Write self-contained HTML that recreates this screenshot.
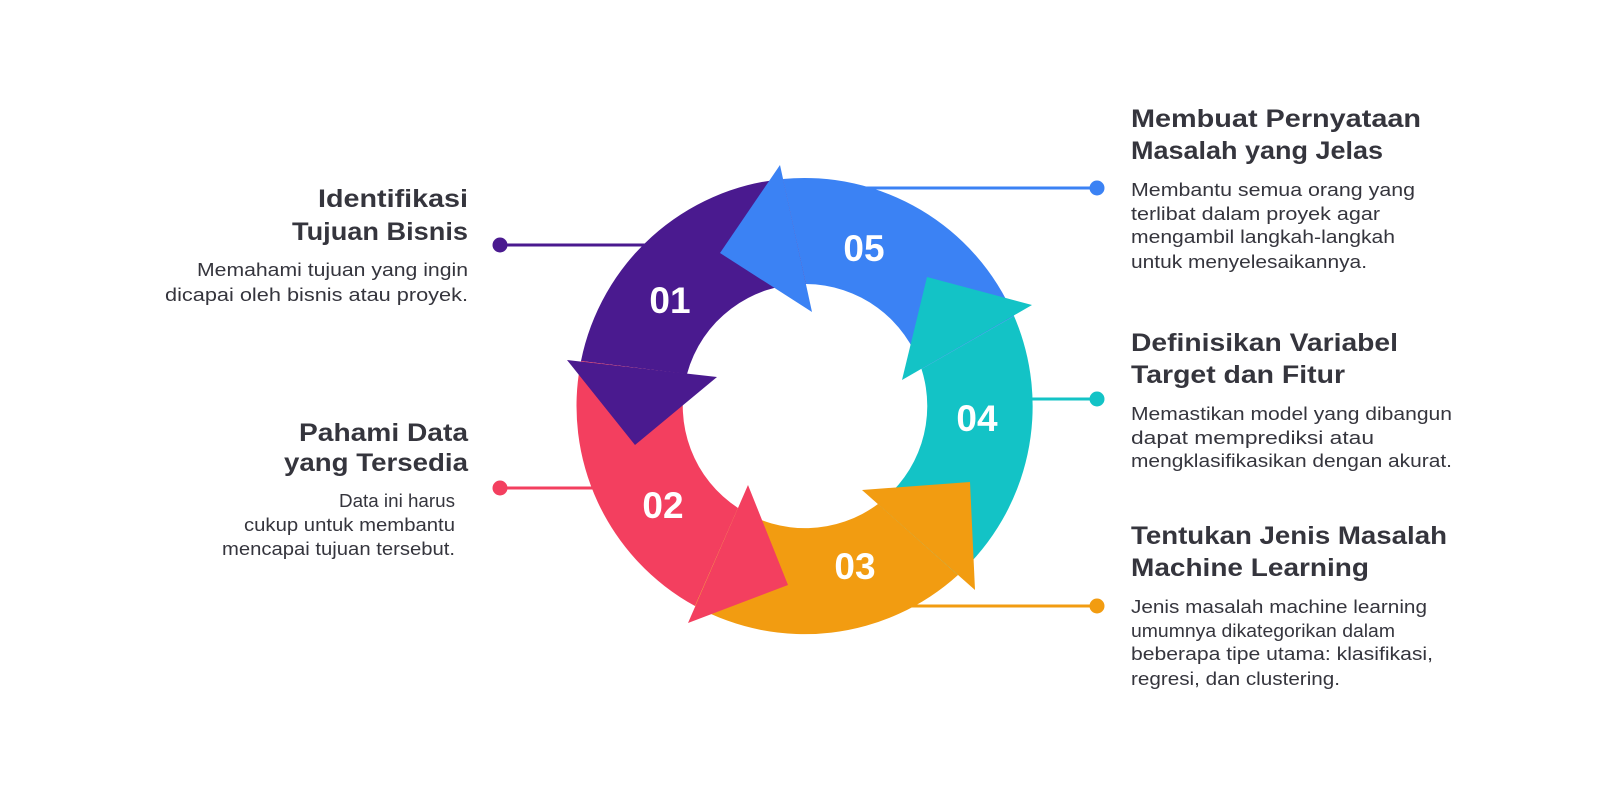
<!DOCTYPE html>
<html><head><meta charset="utf-8"><style>
html,body{margin:0;padding:0;background:#fff;}
svg{display:block;}
.t{font-family:"Liberation Sans",sans-serif;font-weight:bold;font-size:25px;fill:#35353d;}
.b{font-family:"Liberation Sans",sans-serif;font-size:18px;fill:#35353d;}
.n{font-family:"Liberation Sans",sans-serif;font-weight:bold;font-size:37px;fill:#fff;text-anchor:middle;}
</style></head><body>
<svg width="1600" height="797" viewBox="0 0 1600 797" xmlns="http://www.w3.org/2000/svg">
<line x1="500" y1="245" x2="700" y2="245" stroke="#4a1a8f" stroke-width="3"/>
<circle cx="500" cy="245" r="7.5" fill="#4a1a8f"/>
<line x1="500" y1="488" x2="640" y2="488" stroke="#f33f5f" stroke-width="3"/>
<circle cx="500" cy="488" r="7.5" fill="#f33f5f"/>
<line x1="830" y1="188" x2="1097" y2="188" stroke="#3b82f4" stroke-width="3"/>
<circle cx="1097" cy="188" r="7.5" fill="#3b82f4"/>
<line x1="970" y1="399" x2="1097" y2="399" stroke="#13c3c6" stroke-width="3"/>
<circle cx="1097" cy="399" r="7.5" fill="#13c3c6"/>
<line x1="890" y1="606" x2="1097" y2="606" stroke="#f29c11" stroke-width="3"/>
<circle cx="1097" cy="606" r="7.5" fill="#f29c11"/>

<path fill="#3b82f4" d="M1014,316 A228,228 0 0 0 783,179 L806,284 A122,122 0 0 1 921.5,369 Z"/>
<path fill="#4a1a8f" d="M783,179 A228,228 0 0 0 581,361 L687,374 A122,122 0 0 1 806,284 Z"/>
<path fill="#f33f5f" d="M581,361 A228,228 0 0 0 695,606 L738,508 A122,122 0 0 1 687,374 Z"/>
<path fill="#f29c11" d="M695,606 A228,228 0 0 0 958,575 L878,504 A122,122 0 0 1 738,508 Z"/>
<path fill="#13c3c6" d="M958,575 A228,228 0 0 0 1014,316 L921.5,369 A122,122 0 0 1 878,504 Z"/>
<polygon fill="#3b82f4" points="780,165 720,253 812,312"/>
<polygon fill="#4a1a8f" points="567,360 635,445 717,377"/>
<polygon fill="#f33f5f" points="748,485 788,585 688,623"/>
<polygon fill="#f29c11" points="862,490 970,482 975,590"/>
<polygon fill="#13c3c6" points="902,380 927,277 1032,305"/>

<text class="n" x="670" y="313">01</text>
<text class="n" x="663" y="518">02</text>
<text class="n" x="855" y="579">03</text>
<text class="n" x="977" y="431">04</text>
<text class="n" x="864" y="261">05</text>

<g text-anchor="end">
<text class="t" x="468" y="207" textLength="150" lengthAdjust="spacingAndGlyphs">Identifikasi</text>
<text class="t" x="468" y="240" textLength="176" lengthAdjust="spacingAndGlyphs">Tujuan Bisnis</text>
<text class="b" x="468" y="276" textLength="271" lengthAdjust="spacingAndGlyphs">Memahami tujuan yang ingin</text>
<text class="b" x="468" y="301" textLength="303" lengthAdjust="spacingAndGlyphs">dicapai oleh bisnis atau proyek.</text>
<text class="t" x="468" y="441" textLength="169" lengthAdjust="spacingAndGlyphs">Pahami Data</text>
<text class="t" x="468" y="471" textLength="184" lengthAdjust="spacingAndGlyphs">yang Tersedia</text>
<text class="b" x="455" y="507" textLength="116" lengthAdjust="spacingAndGlyphs">Data ini harus</text>
<text class="b" x="455" y="531" textLength="211" lengthAdjust="spacingAndGlyphs">cukup untuk membantu</text>
<text class="b" x="455" y="555" textLength="233" lengthAdjust="spacingAndGlyphs">mencapai tujuan tersebut.</text>
</g>
<text class="t" x="1131" y="127" textLength="290" lengthAdjust="spacingAndGlyphs">Membuat Pernyataan</text>
<text class="t" x="1131" y="159" textLength="252" lengthAdjust="spacingAndGlyphs">Masalah yang Jelas</text>
<text class="b" x="1131" y="196" textLength="284" lengthAdjust="spacingAndGlyphs">Membantu semua orang yang</text>
<text class="b" x="1131" y="220" textLength="249" lengthAdjust="spacingAndGlyphs">terlibat dalam proyek agar</text>
<text class="b" x="1131" y="243" textLength="264" lengthAdjust="spacingAndGlyphs">mengambil langkah-langkah</text>
<text class="b" x="1131" y="268" textLength="236" lengthAdjust="spacingAndGlyphs">untuk menyelesaikannya.</text>

<text class="t" x="1131" y="351" textLength="267" lengthAdjust="spacingAndGlyphs">Definisikan Variabel</text>
<text class="t" x="1131" y="383" textLength="214" lengthAdjust="spacingAndGlyphs">Target dan Fitur</text>
<text class="b" x="1131" y="420" textLength="321" lengthAdjust="spacingAndGlyphs">Memastikan model yang dibangun</text>
<text class="b" x="1131" y="444" textLength="243" lengthAdjust="spacingAndGlyphs">dapat memprediksi atau</text>
<text class="b" x="1131" y="467" textLength="321" lengthAdjust="spacingAndGlyphs">mengklasifikasikan dengan akurat.</text>

<text class="t" x="1131" y="544" textLength="316" lengthAdjust="spacingAndGlyphs">Tentukan Jenis Masalah</text>
<text class="t" x="1131" y="576" textLength="238" lengthAdjust="spacingAndGlyphs">Machine Learning</text>
<text class="b" x="1131" y="613" textLength="296" lengthAdjust="spacingAndGlyphs">Jenis masalah machine learning</text>
<text class="b" x="1131" y="637" textLength="264" lengthAdjust="spacingAndGlyphs">umumnya dikategorikan dalam</text>
<text class="b" x="1131" y="660" textLength="302" lengthAdjust="spacingAndGlyphs">beberapa tipe utama: klasifikasi,</text>
<text class="b" x="1131" y="685" textLength="209" lengthAdjust="spacingAndGlyphs">regresi, dan clustering.</text>
</svg>
</body></html>
